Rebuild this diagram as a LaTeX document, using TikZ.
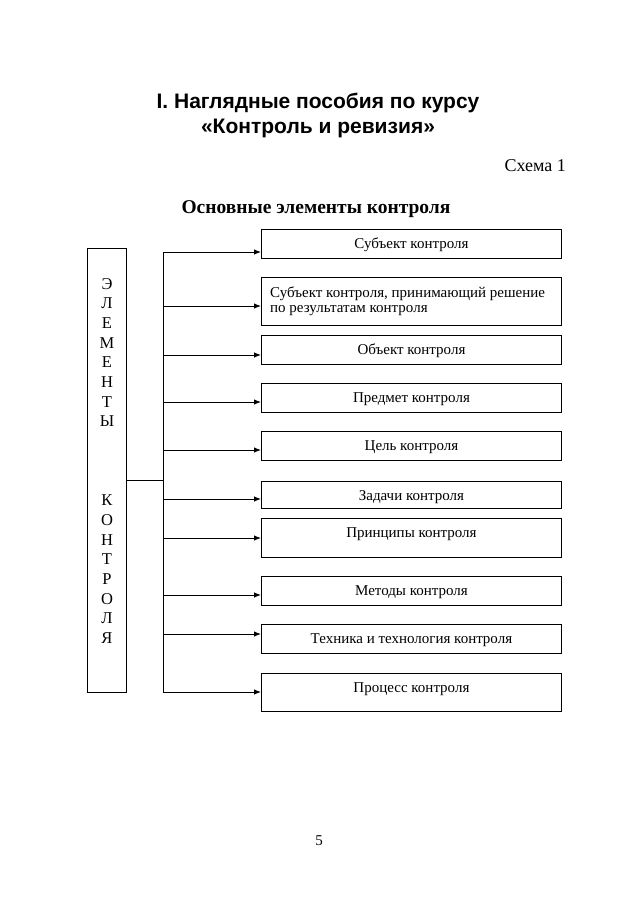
\documentclass[tikz,border=0pt]{standalone}
\usepackage{fontspec}
\setmainfont{Liberation Serif}
\newfontfamily\titlefont{Liberation Sans}
\usetikzlibrary{arrows.meta}
\begin{document}
\begin{tikzpicture}[x=1pt,y=-1pt,
  ln/.style={line width=0.9pt},
  boxfont/.style={font=\fontsize{15}{14.8}\selectfont},
  box/.style={draw, ln, boxfont, inner sep=0pt, minimum width=300pt, text height=19pt, anchor=north west},
  arr/.style={ln, -{Latex[length=7pt,width=5.5pt]}},
  letter/.style={anchor=base, inner sep=0pt, font=\fontsize{16.5}{18}\selectfont}]
\useasboundingbox (0,0) rectangle (638,903);
% headings
\node[anchor=base, font=\titlefont\bfseries\fontsize{21}{24}\selectfont] (title1) at (318,108) {I. Наглядные пособия по курсу};
\node[anchor=base, font=\titlefont\bfseries\fontsize{21}{24}\selectfont] (title2) at (318,133) {«Контроль и ревизия»};
\node[anchor=base east, inner sep=0pt, font=\fontsize{18}{20}\selectfont] (scheme) at (566,171) {Схема 1};
\node[anchor=base, font=\bfseries\fontsize{19.5}{22}\selectfont] (sub) at (316,213) {Основные элементы контроля};
% left box
\node[draw, ln, inner sep=0pt, minimum width=39pt, minimum height=444pt, anchor=north west] (left) at (87,248) {};
\foreach \ch [count=\i from 0] in {Э,Л,Е,М,Е,Н,Т,Ы}
  \node[letter] (e\i) at (107,{289+19.7*\i}) {\ch};
\foreach \ch [count=\i from 11] in {К,О,Н,Т,Р,О,Л,Я}
  \node[letter] (k\i) at (107,{289+19.7*\i}) {\ch};
% boxes
\node[box, text depth=10pt] (b1) at (261,229) {Субъект контроля};
\node[box, text depth=29pt] (b2) at (261,277) {};
\node[boxfont, anchor=base west, inner sep=0pt] (b2a) at (270,297) {Субъект контроля, принимающий решение};
\node[boxfont, anchor=base west, inner sep=0pt] (b2b) at (270,312) {по результатам контроля};
\node[box, text depth=10pt] (b3) at (261,335) {Объект контроля};
\node[box, text depth=10pt] (b4) at (261,383) {Предмет контроля};
\node[box, text depth=10pt] (b5) at (261,431) {Цель контроля};
\node[box, text depth=8pt] (b6) at (261,481) {Задачи контроля};
\node[box, text depth=20pt] (b7) at (261,518) {Принципы контроля};
\node[box, text depth=10pt] (b8) at (261,576) {Методы контроля};
\node[box, text depth=10pt] (b9) at (261,624) {Техника и технология контроля};
\node[box, text depth=19pt] (b10) at (261,673) {Процесс контроля};
% bus
\coordinate (t1) at (163,252);
\coordinate (t2) at (163,306);
\coordinate (t3) at (163,355);
\coordinate (t4) at (163,402);
\coordinate (t5) at (163,450);
\coordinate (t6) at (163,499);
\coordinate (t7) at (163,538);
\coordinate (t8) at (163,595);
\coordinate (t9) at (163,634);
\coordinate (t10) at (163,692);
\coordinate (j) at (163,480);
\draw[ln] (t1) -- (t10);
\draw[ln] (left.east |- j) -- (j);
\foreach \i in {1,...,10}
  \draw[arr] (t\i) -- (t\i -| b\i.west);
% page number
\node[anchor=base, font=\fontsize{15}{17}\selectfont] (page) at (319,845) {5};
\end{tikzpicture}
\end{document}
